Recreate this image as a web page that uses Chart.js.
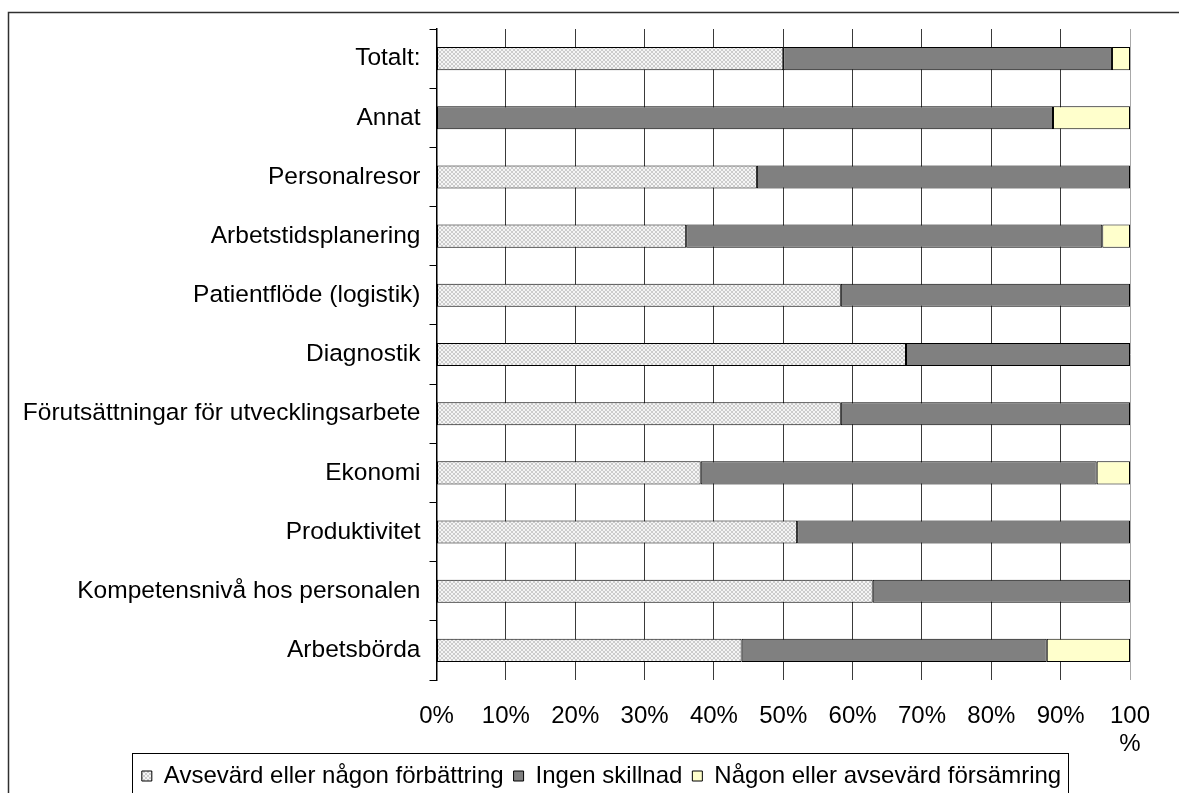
<!DOCTYPE html>
<html lang="sv">
<head>
<meta charset="utf-8">
<title>Förändring per område</title>
<script src="https://cdn.jsdelivr.net/npm/chart.js@4.4.1/dist/chart.umd.min.js"></script>
<style>
  html, body { margin: 0; padding: 0; background: #ffffff; }
  #wrap { width: 1179px; height: 793px; }
</style>
</head>
<body>
<div id="wrap"><canvas id="chart" width="1179" height="793"></canvas></div>
<script>
// Områden (uppifrån och ned)
const categories = [
  'Totalt:',
  'Annat',
  'Personalresor',
  'Arbetstidsplanering',
  'Patientflöde (logistik)',
  'Diagnostik',
  'Förutsättningar för utvecklingsarbete',
  'Ekonomi',
  'Produktivitet',
  'Kompetensnivå hos personalen',
  'Arbetsbörda'
];

// Andel svar i procent per område
const forbattring = [50.0, 0, 46.2, 36.0, 58.3, 67.7, 58.3, 38.1, 52.0, 62.9, 44.0];
const ingenSkillnad = [47.4, 88.9, 53.8, 60.0, 41.7, 32.3, 41.7, 57.1, 48.0, 37.1, 44.0];
const forsamring = [2.6, 11.1, 0, 4.0, 0, 0, 0, 4.8, 0, 0, 12.0];

const seriesNames = [
  'Avsevärd eller någon förbättring',
  'Ingen skillnad',
  'Någon eller avsevärd försämring'
];

// Etiketter på värdeaxeln
const tickLabels = ['0%', '10%', '20%', '30%', '40%', '50%', '60%', '70%', '80%', '90%', ['100', '%']];

// Fint rutmönster för förbättringsstaplarna
function makeCrossPattern() {
  const c = document.createElement('canvas');
  c.width = 4; c.height = 4;
  const g = c.getContext('2d');
  g.fillStyle = '#f5f5f5';
  g.fillRect(0, 0, 4, 4);
  g.fillStyle = '#cccccc';
  for (let i = 0; i < 4; i++) {
    g.fillRect(i, i, 1, 1);
    g.fillRect(3 - i, i, 1, 1);
  }
  return g.createPattern(c, 'repeat');
}

const FONT = '"Liberation Sans", Arial, sans-serif';
Chart.defaults.font.family = FONT;
Chart.defaults.color = '#000000';

// Förklaringen flyttas något åt höger så att den hamnar under diagrammet
const LEGEND_SHIFT = 64;

// Vit bakgrund, yttre ram och ram runt förklaringen
const framePlugin = {
  id: 'frames',
  afterLayout(chart) {
    if (chart.legend) chart.legend.left += LEGEND_SHIFT;
  },
  beforeDraw(chart) {
    const ctx = chart.ctx;
    ctx.save();
    ctx.fillStyle = '#ffffff';
    ctx.fillRect(0, 0, chart.width, chart.height);
    ctx.strokeStyle = '#303030';
    ctx.lineWidth = 1.5;
    ctx.strokeRect(8.5, 12.5, chart.width + 20, chart.height + 20);
    ctx.restore();
  },
  afterDraw(chart) {
    const lg = chart.legend;
    if (!lg || !lg.legendHitBoxes || !lg.legendHitBoxes.length) return;
    const boxes = lg.legendHitBoxes;
    const first = boxes[0];
    const last = boxes[boxes.length - 1];
    const left = Math.round(first.left - 10) + 0.5;
    const right = Math.round(last.left + last.width + 7) + 0.5;
    const top = Math.round(lg.top - 1) + 0.5;
    const ctx = chart.ctx;
    ctx.save();
    ctx.strokeStyle = '#000000';
    ctx.lineWidth = 1;
    ctx.strokeRect(left, top, right - left, chart.height + 20 - top);
    ctx.restore();
  }
};

const pattern = makeCrossPattern();

new Chart(document.getElementById('chart'), {
  type: 'bar',
  data: {
    labels: categories,
    datasets: [
      {
        label: seriesNames[0],
        data: forbattring,
        backgroundColor: pattern,
        borderColor: '#000000',
        borderWidth: 1,
        borderSkipped: false
      },
      {
        label: seriesNames[1],
        data: ingenSkillnad,
        backgroundColor: '#808080',
        borderColor: '#000000',
        borderWidth: 1,
        borderSkipped: false
      },
      {
        label: seriesNames[2],
        data: forsamring,
        backgroundColor: '#ffffcc',
        borderColor: '#000000',
        borderWidth: 1,
        borderSkipped: false
      }
    ]
  },
  options: {
    indexAxis: 'y',
    responsive: false,
    animation: false,
    layout: {
      padding: { top: 29, right: 49, bottom: -5, left: 9 }
    },
    datasets: {
      bar: { barPercentage: 0.39, categoryPercentage: 1.0 }
    },
    scales: {
      x: {
        stacked: true,
        min: 0,
        max: 100,
        ticks: {
          stepSize: 10,
          padding: 23,
          color: '#000000',
          font: { size: 24, lineHeight: 1.15 },
          maxRotation: 0,
          autoSkip: false,
          callback: (value, index) => tickLabels[index]
        },
        grid: {
          drawTicks: false,
          lineWidth: 1,
          color: ctx => (ctx.index === 10 ? '#a8a8a8' : '#3a3a3a')
        },
        border: { display: false },
        afterFit: scale => { scale.height = 74; }
      },
      y: {
        stacked: true,
        ticks: {
          padding: 9,
          color: '#000000',
          font: { size: 24.5 },
          autoSkip: false
        },
        grid: {
          offset: true,
          drawOnChartArea: false,
          drawTicks: true,
          tickLength: 7,
          color: '#000000',
          lineWidth: 1
        },
        border: { display: true, color: '#000000', width: 1.5 },
        afterFit: scale => { scale.width = 436.5 - 9; }
      }
    },
    plugins: {
      legend: {
        position: 'bottom',
        labels: {
          boxWidth: 10,
          boxHeight: 10,
          padding: 10,
          color: '#000000',
          font: { size: 24 }
        }
      },
      tooltip: { enabled: false }
    }
  },
  plugins: [framePlugin]
});
</script>
</body>
</html>
